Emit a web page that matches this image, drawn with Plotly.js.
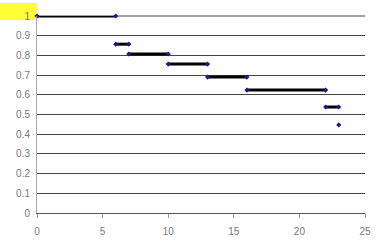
<!DOCTYPE html>
<html><head><meta charset="utf-8">
<script src="https://cdn.plot.ly/plotly-3.0.1.min.js"></script>
<style>html,body{margin:0;padding:0;background:#fff;}#chart{width:385px;height:243px;}</style>
</head><body><div id="chart"></div>
<script>
// Step segments (time start, time end, survival)
const segStart = [0, 6, 7, 10, 13, 16, 22];
const segEnd   = [6, 7, 10, 13, 16, 22, 23];
const segSurv  = [1.0, 0.857, 0.807, 0.756, 0.69, 0.624, 0.538];
// Final isolated point
const lastTime = [23];
const lastSurv = [0.447];
const xTicks = [0, 5, 10, 15, 20, 25];
const yTicks = [0, 0.1, 0.2, 0.3, 0.4, 0.5, 0.6, 0.7, 0.8, 0.9, 1];

const xs = [], ys = [];
for (let i = 0; i < segStart.length; i++) {
  xs.push(segStart[i], segEnd[i], null);
  ys.push(segSurv[i], segSurv[i], null);
}
const traces = [
  {x: xs, y: ys, mode: 'lines+markers', type: 'scatter',
   line: {color: '#000', width: 3},
   marker: {symbol: 'diamond', size: 4, color: '#1a1a8c'},
   hoverinfo: 'skip', cliponaxis: false},
  {x: lastTime, y: lastSurv, mode: 'markers', type: 'scatter',
   marker: {symbol: 'diamond', size: 4, color: '#1a1a8c'}, cliponaxis: false}
];
const layout = {
  width: 385, height: 243,
  margin: {l: 37, r: 20, t: 16, b: 30},
  paper_bgcolor: '#fff', plot_bgcolor: '#fff',
  showlegend: false,
  font: {family: 'Liberation Sans, Arial, sans-serif', size: 10, color: '#777'},
  xaxis: {range: [0, 25], tickvals: xTicks, ticktext: xTicks.map(String),
    showgrid: false, zeroline: false, showline: true, linecolor: '#555', linewidth: 1,
    ticks: 'outside', ticklen: 4, tickcolor: '#999', ticklabelstandoff: 5,
    tickfont: {size: 10, color: '#777'}},
  yaxis: {range: [0, 1], tickvals: yTicks, ticktext: yTicks.map(String),
    showgrid: true, gridcolor: '#444', gridwidth: 1, zeroline: false,
    showline: true, linecolor: '#aaa', linewidth: 1, ticks: '', ticklabelstandoff: 4,
    tickfont: {size: 10, color: '#777'}},
  shapes: [
    {type: 'rect', xref: 'paper', yref: 'paper', x0: -0.113, x1: 0, y0: 0.98, y1: 1.066,
     fillcolor: '#ffff33', line: {width: 0}, layer: 'below'},
    {type: 'line', xref: 'paper', yref: 'paper', x0: 0, x1: 1, y0: 1, y1: 1,
     line: {color: '#444', width: 1}, layer: 'below'}
  ]
};
Plotly.newPlot('chart', traces, layout, {displayModeBar: false, staticPlot: true});
</script></body></html>
